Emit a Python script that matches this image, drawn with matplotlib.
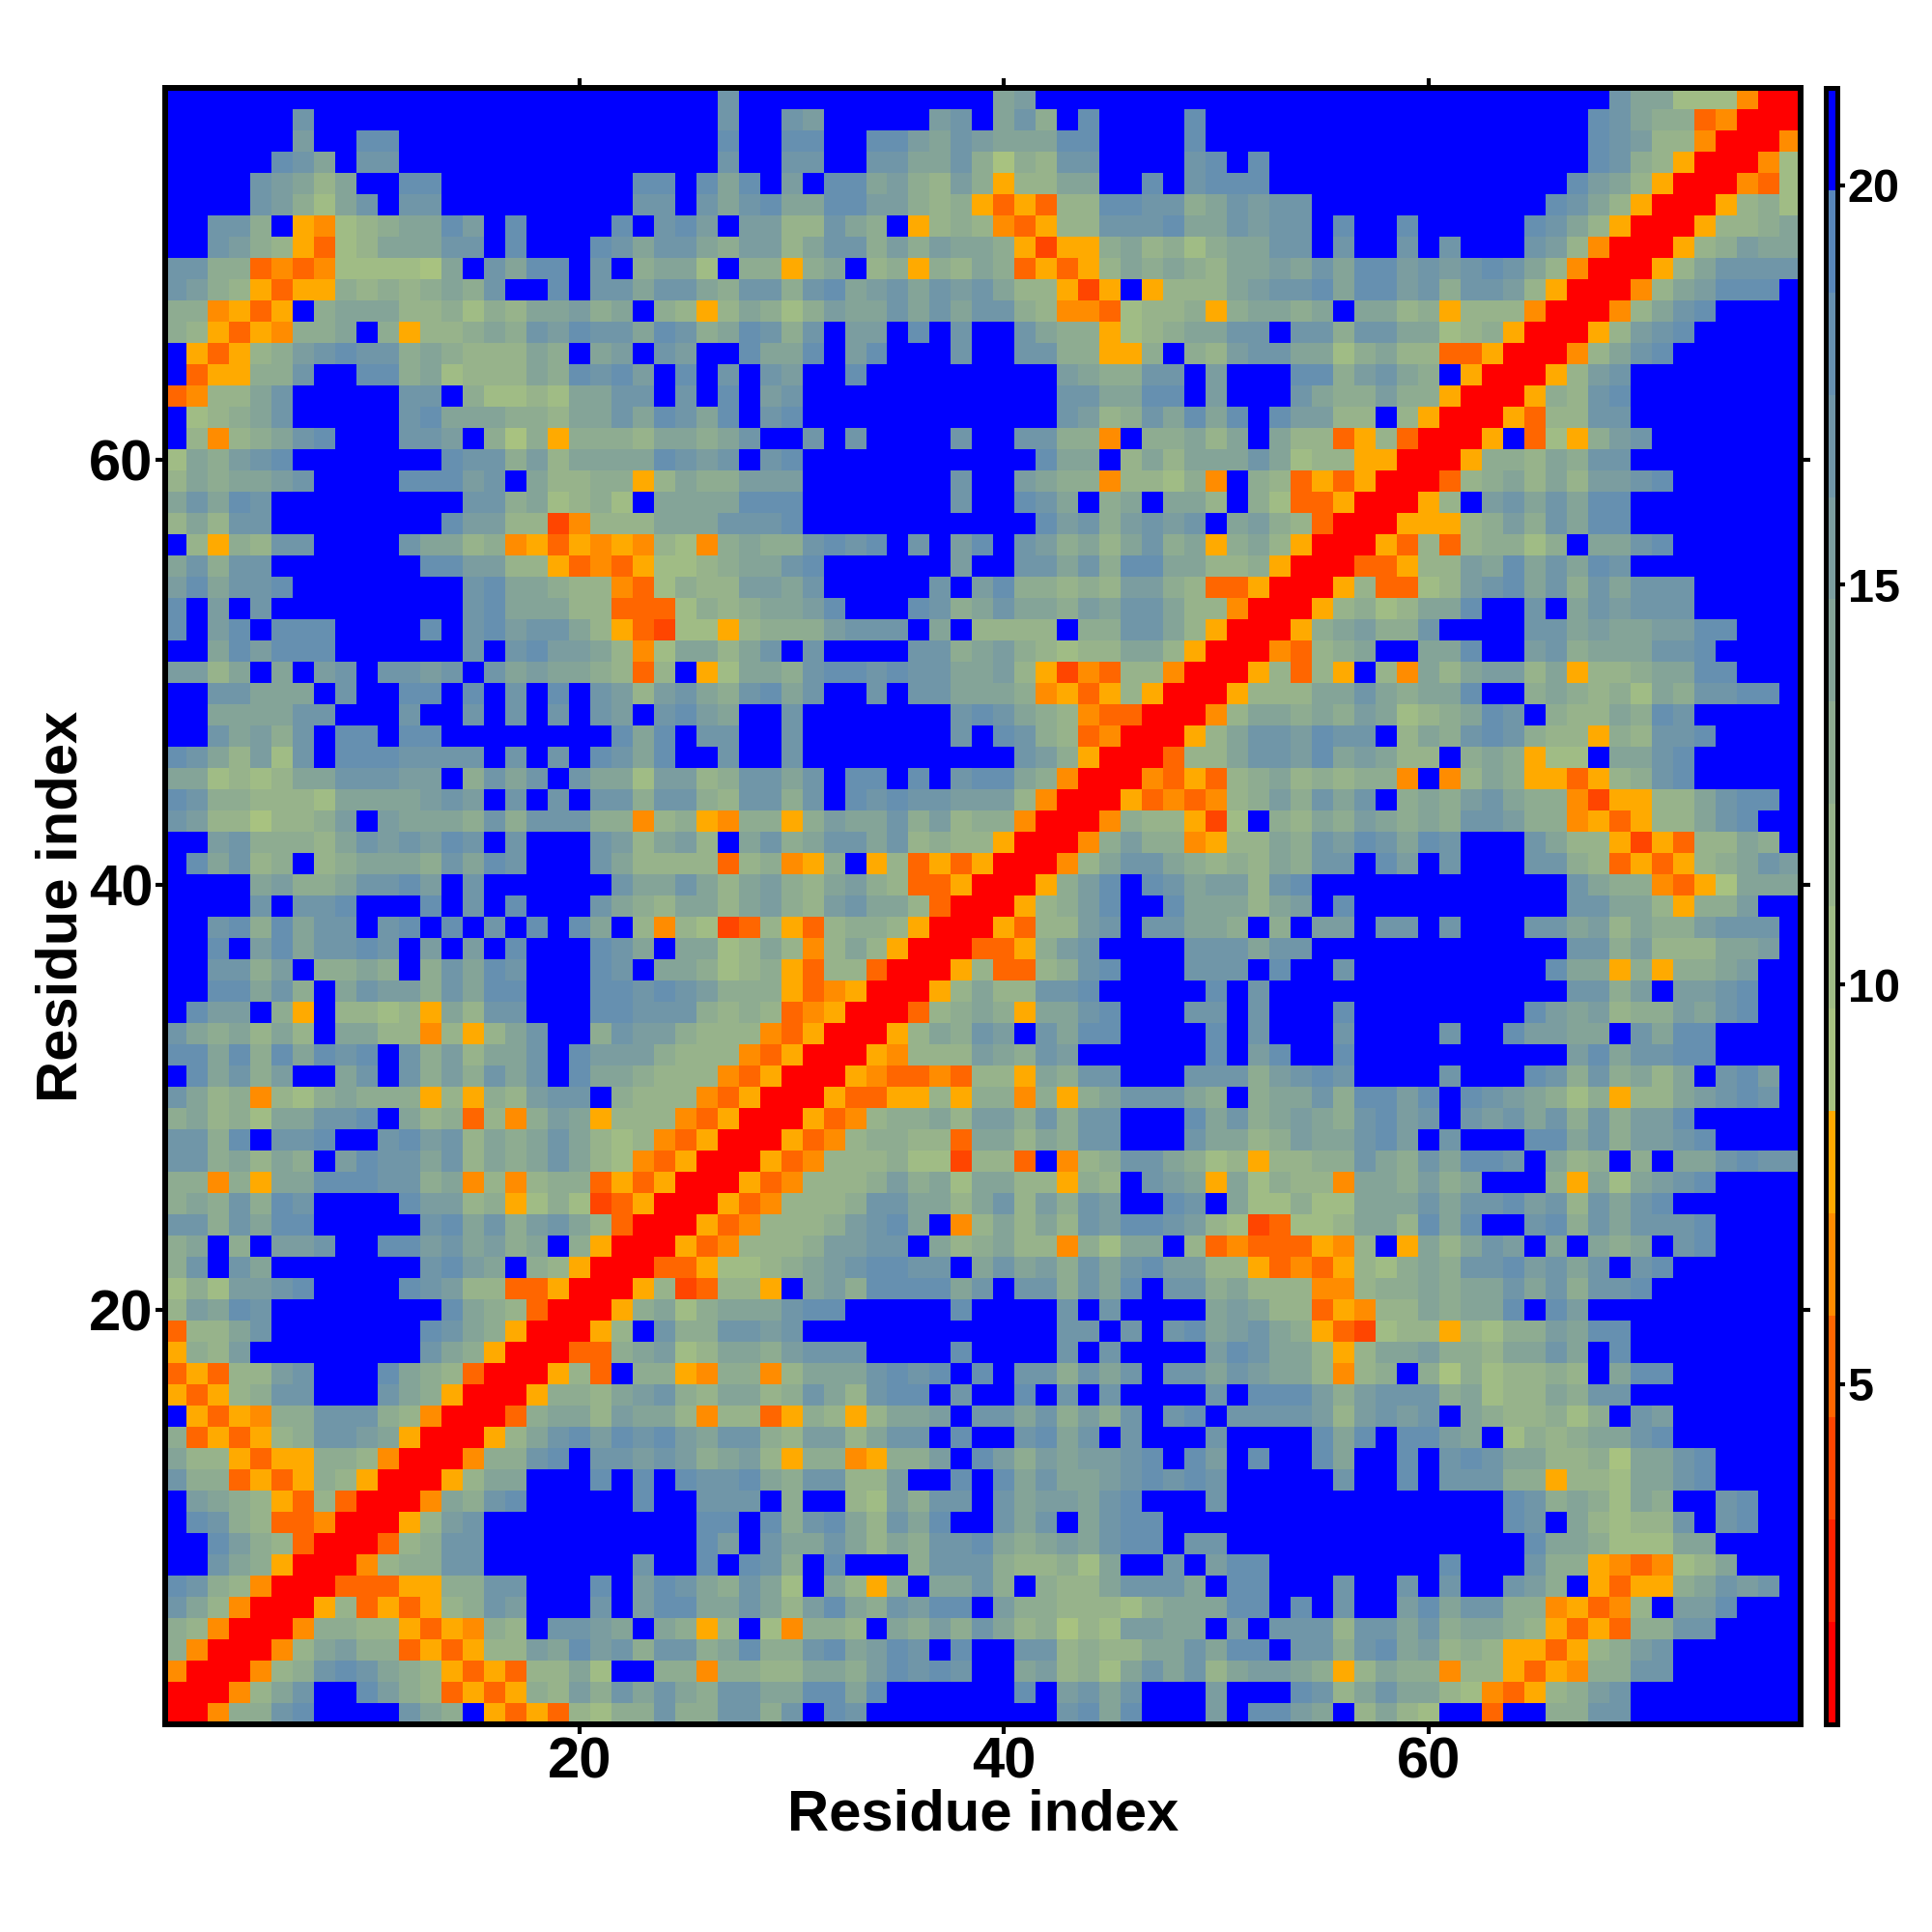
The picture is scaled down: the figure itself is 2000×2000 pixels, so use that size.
import matplotlib

matplotlib.use("Agg")
import matplotlib.pyplot as plt
import numpy as np
from matplotlib.colors import BoundaryNorm, ListedColormap

plt.rcParams["font.family"] = ["Liberation Sans", "DejaVu Sans"]
plt.rcParams["font.weight"] = "bold"

# distance bands of the colour bar, low to high
BAND_EDGES = [0.74, 2.02, 3.30, 4.58, 5.86, 7.14, 8.42, 9.70, 10.98, 12.26, 13.54,
              14.82, 16.10, 17.38, 18.66, 19.94, 21.22]
BAND_COLORS = ["#ff0000", "#ff2200", "#ff4500", "#ff6600", "#ff8c00", "#ffaa00",
               "#a8c280", "#a0bc85", "#97b38b", "#8eac91", "#84a498", "#7b9da0",
               "#7096a8", "#6690b0", "#5886ba", "#0000ff"]
CBAR_TICKS = [5, 10, 15, 20]
AXIS_TICKS = [20, 40, 60]

# Cells hold the band number in hex (0 = red ... f = blue). The map is symmetric,
# so only the part with column <= row is kept, one string per row.
# rows 77 to 52, columns 1 to 26
TOP_A = [
    "ffffffffffffffffffffffffff",
    "ffffffcfffffffffffffffffff",
    "ffffffbffddfffffffffffffff",
    "fffffdcafccfffffffffffffff",
    "ffffcba8affddfffffffffddfd",
    "ffffcb97acfccfffffffffccfc",
    "ffcc9f54789aadbfdffffdfcdb",
    "ffcb985378aaaccfdfffdcacca",
    "cc99343477776afcaddfcf9aa7",
    "cb98535598989a9cffdfccacca",
    "994535f9aaa889798aab9af985",
    "98535499af95889a9cbdccadc9",
    "f53589bcdcc9a9888a9fabfcbf",
    "f35599cffdd9a7888a9dcdbfdf",
    "3488acfffffccf97787aaccfcf",
    "f789acfffffcdaaa998aacadca",
    "f8489acdfffccbf96959998aa9",
    "7a9bcdfffffffdcc9b8aaaadcb",
    "8a9aabcffffdddbcfa889958a9",
    "acadcfffffffffcc9a7897faaa",
    "8a8ccffffffffdbb8824888aaa",
    "f8598ccffffcaa894535454874",
    "ac9ccfffffffddbb8853435778",
    "bdaccdffffffffcdaa98843798",
    "dfbfcfffffffffcdaaa8833379",
    "dfbdfdddffffdfcdbcca853277",
]
# rows 77 to 52, columns 27 to 52
TOP_B = [
    "cffffffffffffabfffffffffff",
    "cffcbfffffbcfac9fdffffdfff",
    "dffddffddbacbaaaddffffdfff",
    "cffccffccaac9698ccffffcdfd",
    "adfbfddab98b9588aaffdfcddd",
    "acdaaddbb989535388ddcc9acb",
    "fbb88ca9f589843588cccdaacb",
    "9bb8acc9b9baa952559a8979aa",
    "f9959af89598a935358a9a98aa",
    "9cc9cdabcacbca88525f5888ab",
    "8a979baacacacc98443788959a",
    "adc9cfbbfdfcffca995789aacc",
    "fdaadfbdfffcffcc99559f98bc",
    "cfcbffdfffffffffba99ccfbff",
    "dfbcffffffffffffccaaddfbff",
    "dfcdffffffffffffcb89cadadf",
    "acffcfcffffcffcc994f99a8af",
    "cfcdfffffffffffdaaf8a8aaac",
    "9bbbfffffffcffba99488794f9",
    "adddfffffffcffdcaf9afaa8f9",
    "cccdfffffffffffdbc9bcbcfab",
    "9a99cdcdfcfbdfcb9a8ac9a59a",
    "9aacdffffffbffccac9ddaa889",
    "8bbacfffffcfbd99898bb98335",
    "89aabdfffdc9acaa9bacca8840",
    "58999bcccfaf8888f99cca8500",
]
# rows 77 to 53, columns 53 up to the diagonal
TOP_C = [
    "ffffffffffffffffcaa777400",
    "fffffffffffffffdca993400",
    "fffffffffffffffdcb88400",
    "fffffffffffffffdc98500",
    "ffffffffffffffdba8500",
    "ccfffffffffffdca8500",
    "ccfdffdfffffdca8500",
    "ccfcffcfcfffcb8400",
    "bacaddbcbcdca8400",
    "ccdaddbc9ccb8500",
    "a9afaa895888400",
    "fcc9ccaa789500",
    "caa79a8833500",
    "fdd9bca9f500",
    "fca99b99500",
    "dbb88f8500",
    "a88358300",
    "a7885500",
    "8353500",
    "733500",
    "98300",
    "8500",
    "500",
    "00",
    "0",
]
# rows 51 to 26, columns 1 to 26
MID_A = [
    "ffadbdddffffffcfcdbba847aa",
    "bb8afafbcfccbcfcabaa9838f5",
    "ffccaaafcffddfdfcfdfcb8bca",
    "ffaaaaccfffcffcfcfcfcbfcdb",
    "ffcab9cfddfddffffffffdadfc",
    "dca8b7cfdddccccfcfcfdcadff",
    "aa7878aacccbbf9cacfcaa7bb8",
    "dc998887aaaabcbfcfcfcc9cc9",
    "cb886889bfbaaa9c9ccc994895",
    "ffbc9998acbcbdcfcfffcb8ab8",
    "fdac89f89aaa9cadcfffca8888",
    "ffffab99accdbfcffffffcaaca",
    "ffffcfccdfffdfcfdfffca98aa",
    "ffcd9daccfcdfdfcfdfdaf8487",
    "ffdfbdaccdcfbfbfdfffdcafaa",
    "ffcc9bf99a9f9cadcfffdcfaa9",
    "ffddac9facbb9caddfffddcdcb",
    "fdbbf95f88785a8ccfffddccc9",
    "ca9a8a8faa884858acff9cbb98",
    "ddad9dadcdfc9b8aacfdbbb988",
    "fdac9bffacfc9b9cacfdaa9888",
    "ca894879a99958598bccf98884",
    "9a897aaccdfa893849ba588843",
    "cc9dfccdffcdbc8a9aca878435",
    "cc9a8a9fbdccac8a9aca874350",
    "99495aadddcc9a484899353500",
]
# rows 51 to 27, columns 27 up to the diagonal
MID_B = [
    "8acfcffffcc9ab98788aa8500",
    "7aa9cddcdccaab8524388400",
    "9cdacffcfccaaa945358500",
    "affcfffffffcdca9843300",
    "cffcfffffffcfdc983400",
    "cffcffffffffffcb9500",
    "9ccacfddfdfcdda9400",
    "8cc9cfdcdccbbb8400",
    "49959baac9b899400",
    "fac9accac8988500",
    "389459f58353500",
    "8ab98ab9833500",
    "8ab98bcaa8300",
    "238538998500",
    "78a848a8500",
    "7895388300",
    "999534500",
    "89834500",
    "8843500",
    "843500",
    "43500",
    "3500",
    "500",
    "00",
    "0",
]
# rows 25 to 1, columns 1 up to the diagonal
LOW_A = [
    "9a9c9dcffffdbb89579723500",
    "cc9caddfffffcdac9bca8300",
    "9af9fbbcffddbcab9af9500",
    "9cfcafffffffcdbaf98500",
    "797bbcdffffdcb8833500",
    "8badcffffffffda98300",
    "388acfffffffdca9500",
    "598bffffffffca9500",
    "35388bcfffda98300",
    "53589ccfffca9500",
    "f535499ccc98400",
    "9353589ccba500",
    "a885355998400",
    "c99353598500",
    "fba98538300",
    "fdc9833400",
    "ffdb98300",
    "ffca9500",
    "dc98400",
    "ca8400",
    "98400",
    "9400",
    "400",
    "00",
    "0",
]


def fit(text, size):
    # a miscounted row should not shift the rest of the map
    return text[:size].ljust(size, "f")


def build_matrix():
    bands = np.full((77, 77), 15, dtype=int)

    rows = []
    for i in range(25):
        row = 77 - i
        rows.append((row, fit(TOP_A[i], 26) + fit(TOP_B[i], 26) + fit(TOP_C[i], row - 52)))
    rows.append((52, fit(TOP_A[25], 26) + fit(TOP_B[25], 26)))
    for i in range(25):
        row = 51 - i
        rows.append((row, fit(MID_A[i], 26) + fit(MID_B[i], row - 26)))
    rows.append((26, fit(MID_A[25], 26)))
    for i in range(25):
        row = 25 - i
        rows.append((row, fit(LOW_A[i], row)))

    for row, text in rows:
        for col, ch in enumerate(text):
            bands[row - 1, col] = int(ch, 16)
            bands[col, row - 1] = int(ch, 16)

    edges = np.array(BAND_EDGES)
    centers = (edges[:-1] + edges[1:]) / 2
    return centers[bands]


def main():
    values = build_matrix()
    cmap = ListedColormap(BAND_COLORS)
    norm = BoundaryNorm(BAND_EDGES, cmap.N)

    fig = plt.figure(figsize=(20, 20), dpi=100)
    ax = fig.add_axes([171 / 2000, 1 - 1785 / 2000, 1693 / 2000, 1694 / 2000])
    im = ax.imshow(
        values,
        origin="lower",
        extent=(0.5, 77.5, 0.5, 77.5),
        cmap=cmap,
        norm=norm,
        aspect="auto",
        interpolation="nearest",
    )

    ax.set_xticks(AXIS_TICKS)
    ax.set_yticks(AXIS_TICKS)
    ax.tick_params(
        axis="both",
        which="major",
        top=True,
        right=True,
        length=7,
        width=3,
        labelsize=43,
        pad=2,
    )
    for spine in ax.spines.values():
        spine.set_linewidth(4.3)

    ax.set_xlabel("Residue index", fontsize=43, fontweight="bold", labelpad=-1)
    ax.set_ylabel("Residue index", fontsize=43, fontweight="bold", labelpad=0)

    cax = fig.add_axes([1889.5 / 2000, 1 - 1785 / 2000, 12 / 2000, 1694 / 2000])
    cbar = fig.colorbar(im, cax=cax, spacing="proportional", ticks=CBAR_TICKS)
    cbar.outline.set_linewidth(3.6)
    cbar.ax.minorticks_off()
    cbar.ax.tick_params(length=6, width=3, labelsize=35, pad=2)

    fig.savefig("out.png", dpi=100)
    plt.close(fig)


if __name__ == "__main__":
    main()
